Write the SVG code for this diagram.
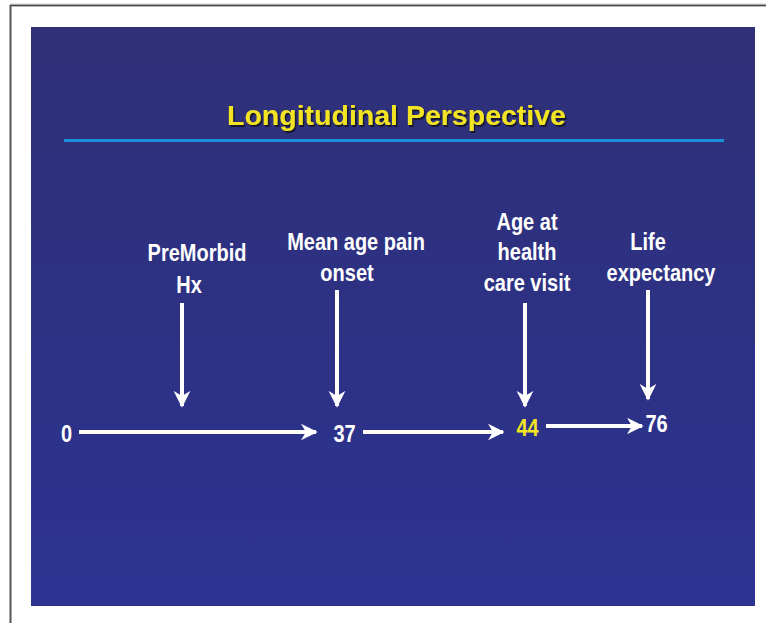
<svg xmlns="http://www.w3.org/2000/svg" width="766" height="623" viewBox="0 0 766 623">
<style>
.lbl{font-family:"Liberation Sans",Arial,sans-serif;font-weight:bold;font-size:20px;fill:#ffffff;text-anchor:middle}
.num{font-family:"Liberation Sans",Arial,sans-serif;font-weight:bold;font-size:20px;fill:#ffffff;text-anchor:middle}
.title{font-family:"Liberation Sans",Arial,sans-serif;font-weight:bold;font-size:28.5px;text-anchor:middle;fill:#f2e422}
.conn{stroke:#ffffff;stroke-width:4;fill:none}
</style>
<defs>
<linearGradient id="bg" x1="0" y1="0" x2="0" y2="1">
<stop offset="0" stop-color="#2f3077"/>
<stop offset="1" stop-color="#2c3391"/>
</linearGradient>
<filter id="sh" x="-5%" y="-20%" width="110%" height="140%">
<feDropShadow dx="1.5" dy="2" stdDeviation="0.4" flood-color="#15152e" flood-opacity="1"/>
</filter>
<marker id="ah" viewBox="0 0 10 10" refX="9" refY="5" markerWidth="4.2" markerHeight="4.6" markerUnits="strokeWidth" orient="auto">
<path d="M0,0 L10,5 L0,10 L3,5 Z" fill="#ffffff"/>
</marker>
</defs>
<rect width="766" height="623" fill="#ffffff"/>
<line x1="10" y1="5" x2="766" y2="5" stroke="#cccccc" stroke-width="3"/>
<line x1="10" y1="5.5" x2="766" y2="5.5" stroke="#444444" stroke-width="1.5"/>
<line x1="10.5" y1="5" x2="10.5" y2="623" stroke="#555555" stroke-width="2"/>
<rect x="31" y="27" width="724" height="579" fill="url(#bg)"/>
<g id="title">
<text class="title" x="396.5" y="125" filter="url(#sh)">Longitudinal Perspective</text>
<rect x="64" y="139" width="660" height="3" fill="#1a90d6"/>
</g>
<g id="connectors">
<line class="conn" x1="79" y1="432" x2="316" y2="432" marker-end="url(#ah)"/>
<line class="conn" x1="363" y1="432" x2="503" y2="432" marker-end="url(#ah)"/>
<line class="conn" x1="546" y1="426" x2="642" y2="426" marker-end="url(#ah)"/>
<line class="conn" x1="182" y1="303" x2="182" y2="406" marker-end="url(#ah)"/>
<line class="conn" x1="337" y1="290" x2="337" y2="406" marker-end="url(#ah)"/>
<line class="conn" x1="525" y1="303" x2="525" y2="406" marker-end="url(#ah)"/>
<line class="conn" x1="648" y1="290" x2="648" y2="399" marker-end="url(#ah)"/>
</g>
<g id="n0"><text class="num" transform="translate(66.5,442) scale(1,1.2)">0</text></g>
<g id="n37"><text class="num" transform="translate(344.5,442) scale(1,1.2)">37</text></g>
<g id="n44"><text class="num" style="fill:#f2e422" transform="translate(527.5,436) scale(1,1.2)">44</text></g>
<g id="n76"><text class="num" transform="translate(656.5,432) scale(1,1.2)">76</text></g>
<g id="premorbid">
<text class="lbl" transform="translate(197,261) scale(1,1.2)">PreMorbid</text>
<text class="lbl" transform="translate(189,293) scale(1,1.2)">Hx</text>
</g>
<g id="meanage">
<text class="lbl" transform="translate(356,250) scale(1,1.2)">Mean age pain</text>
<text class="lbl" transform="translate(347,281) scale(1,1.2)">onset</text>
</g>
<g id="agevisit">
<text class="lbl" transform="translate(527,230) scale(1,1.2)">Age at</text>
<text class="lbl" transform="translate(527,260) scale(1,1.2)">health</text>
<text class="lbl" transform="translate(527,291) scale(1,1.2)">care visit</text>
</g>
<g id="life">
<text class="lbl" transform="translate(648,250) scale(1,1.2)">Life</text>
<text class="lbl" transform="translate(661,281) scale(1,1.2)">expectancy</text>
</g>
</svg>
